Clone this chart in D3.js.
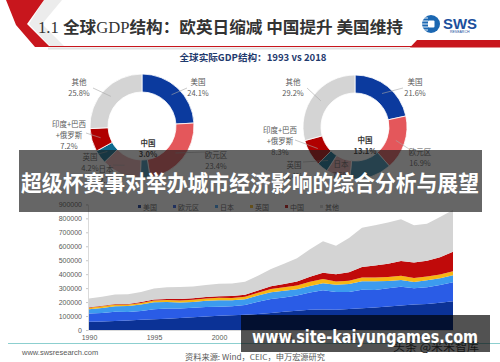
<!DOCTYPE html>
<html>
<head>
<meta charset="utf-8">
<script src="https://cdnjs.cloudflare.com/ajax/libs/d3/7.8.5/d3.min.js"></script>
<style>
  html, body { margin: 0; padding: 0; background: #fff; }
  svg { display: block; }
</style>
</head>
<body>
<div id="chart"></div>
<script>
// ---- data (GDP in 亿美元, shares in %) ----
const years = [1990, 1991, 1992, 1993, 1994, 1995, 1996, 1997, 1998, 1999, 2000, 2001, 2002, 2003, 2004,
  2005, 2006, 2007, 2008, 2009, 2010, 2011, 2012, 2013, 2014, 2015, 2016, 2017, 2018];
const areaKeys = ['美国', '欧元区', '日本', '英国', '中国', '其他'];
const gdpUS = [59600, 61600, 65200, 68600, 72900, 76400, 80700, 85800, 90600, 96300, 102500, 105800, 109400, 114600,
  122100, 130400, 138100, 144500, 147100, 144500, 149900, 155400, 162000, 167800, 175200, 182200, 187100, 195200, 205800];
const gdpEuro = [58500, 60500, 66000, 61000, 64000, 72000, 73000, 67500, 69000, 68000, 63500, 64500, 70000, 87500,
  100000, 103000, 109000, 125000, 138000, 127000, 122000, 133000, 125000, 132000, 135000, 117000, 120000, 127000, 137000];
const gdpJapan = [31300, 35800, 39100, 42500, 46000, 50000, 46300, 43100, 40300, 44600, 47900, 43000, 41200, 44500,
  48200, 47600, 45300, 45200, 50400, 52300, 57000, 61600, 62000, 51600, 48500, 43900, 49200, 48700, 49700];
const gdpUK = [10900, 11400, 11800, 10600, 11400, 13400, 14100, 15600, 16500, 16800, 16600, 16400, 17800, 20500,
  24200, 25400, 27100, 30900, 29200, 24100, 24800, 26600, 27000, 27800, 30600, 29300, 26900, 26700, 28600];
const gdpChina = [3600, 3800, 4300, 4400, 5600, 7300, 8600, 9600, 10300, 10900, 12100, 13400, 14700, 16600,
  19600, 22900, 27500, 35500, 45900, 51000, 60900, 75500, 85300, 95700, 104800, 110600, 112300, 123100, 138900];
const gdpOther = [62100, 65900, 67600, 68900, 72000, 78000, 84300, 87400, 84300, 85400, 89400, 89900, 92900, 105300,
  123900, 144700, 167000, 197900, 225400, 204100, 245400, 280900, 288700, 296100, 298900, 267000, 266500, 288300, 299000];
const yTicks = [0, 100000, 200000, 300000, 400000, 500000, 600000, 700000, 800000, 900000];
const xTicks = [1990, 1995, 2000, 2005, 2010, 2015];

const donutNames = ['美国', '欧元区', '中国', '日本', '英国', '印度+巴西+俄罗斯', '其他'];
const share1993 = [24.1, 23.4, 3.0, 12.3, 4.2, 7.2, 25.8];
const share2018 = [21.6, 16.9, 13.1, 7.5, 3.4, 8.3, 29.2];

/**
 * Slide with two donuts (1993 vs 2018) and a stacked GDP area chart.
 */
class GdpSlide {

  constructor(selector) {
    this.element = d3.select('#' + selector);
    this.initialize();
    this.drawChart();
  }

  initialize() {
    this.width = 500;
    this.height = 362;
    this.font = '"Noto Sans CJK SC", "Noto Sans", sans-serif';
    this.labelColor = '#595959';
    this.red = '#c8161d';
    this.donutColors = ['#0b3a9e', '#e4575b', '#3a8db0', '#e6aaad', '#0b6a8e', '#b00000', '#d4d4d4'];
    this.areaColors = ['#0b3296', '#2a5ce6', '#3c9bef', '#f7b614', '#c00a0a', '#d4d4d4'];
    this.plot = {left: 89, right: 453, top: 204.4, bottom: 330};

    // where each donut label sits; lx/ly is the label end of its leader line
    this.layout1993 = [
      {x: 198, y: 82, lx: 187, ly: 88},
      {x: 216, y: 155, lx: 205, ly: 152},
      {x: 148, y: 143, bold: true},
      {x: 106, y: 169, lx: 113, ly: 165},
      {x: 90, y: 157, lx: 98, ly: 154},
      {x: 69, y: 124, lx: 86, ly: 133},
      {x: 79, y: 82, lx: 93, ly: 88}
    ];
    this.layout2018 = [
      {x: 415, y: 82, lx: 403, ly: 88},
      {x: 420, y: 152, lx: 409, ly: 149},
      {x: 365, y: 140, bold: true},
      {x: 341, y: 164},
      {x: 294, y: 165, lx: 303, ly: 162},
      {x: 280, y: 130, lx: 295, ly: 140},
      {x: 293, y: 82, lx: 307, ly: 88}
    ];
  }

  drawChart() {
    this.createSVG();
    this.renderHeader();
    this.renderDonut(share1993, 142, 126, this.layout1993);
    this.renderDonut(share2018, 355, 127, this.layout2018);
    this.renderArea();
    this.renderFooter();
    this.renderOverlays();
  }

  createSVG() {
    this.element.selectAll('svg').remove();
    this.svg = this.element
      .append('svg')
      .attr('width', this.width)
      .attr('height', this.height)
      .attr('viewBox', `0 0 ${this.width} ${this.height}`)
      .style('font-family', this.font);
  }

  /**
   * Red chevron, title, logo and the header rule.
   */
  renderHeader() {
    let svg = this.svg;

    svg.append('polygon')
      .attr('points', '44,0 62,0 42,24 64,46 50,46 29,24')
      .attr('fill', '#ececec');
    svg.append('polygon')
      .attr('points', '6,0 44,0 27,24 50,47 35,47 16,25')
      .attr('fill', this.red);

    svg.append('line')
      .attr('x1', 48).attr('x2', 500).attr('y1', 46.5).attr('y2', 46.5)
      .attr('stroke', this.red).attr('stroke-width', 1.2);
    svg.append('line')
      .attr('x1', 48).attr('x2', 410).attr('y1', 48.5).attr('y2', 48.5)
      .attr('stroke', '#e2e2e2').attr('stroke-width', 2);
    svg.append('polygon')
      .attr('points', '417,40 500,40 500,47.5 410,47.5')
      .attr('fill', this.red);

    let title = svg.append('text')
      .attr('x', 38).attr('y', 33)
      .attr('font-size', 16)
      .attr('fill', '#333')
      .attr('textLength', 365)
      .attr('lengthAdjust', 'spacingAndGlyphs');
    let serif = '"Liberation Serif", "DejaVu Serif", serif';
    title.append('tspan').attr('font-family', serif).text('1.1 ');
    title.append('tspan').attr('font-weight', 700).text('全球');
    title.append('tspan').attr('font-family', serif).text('GDP');
    title.append('tspan').attr('font-weight', 700).text('结构：欧英日缩减 中国提升 美国维持');

    // SWS logo
    let logo = svg.append('g').attr('transform', 'translate(431,24)');
    logo.append('circle').attr('r', 9).attr('fill', '#1b67b2');
    [-6, -3, 0, 3, 6].forEach(function (dy) {
      logo.append('line')
        .attr('x1', -9).attr('x2', -3).attr('y1', dy).attr('y2', dy)
        .attr('stroke', '#fff').attr('stroke-width', 0.9);
    });
    logo.append('rect')
      .attr('x', -3).attr('y', -3.5).attr('width', 6.5).attr('height', 7)
      .attr('rx', 1).attr('fill', '#fff');

    svg.append('text')
      .attr('x', 443).attr('y', 29)
      .attr('font-family', '"Liberation Sans", Arial, sans-serif')
      .attr('font-weight', 700).attr('font-size', 15)
      .attr('fill', '#1b4f9c')
      .attr('textLength', 34).attr('lengthAdjust', 'spacingAndGlyphs')
      .text('SWS');
    svg.append('text')
      .attr('x', 450).attr('y', 33)
      .attr('font-family', '"Liberation Sans", Arial, sans-serif')
      .attr('font-size', 3.5).attr('fill', '#1b4f9c')
      .text('RESEARCH');

    svg.append('text')
      .attr('x', 253).attr('y', 61)
      .attr('text-anchor', 'middle')
      .attr('font-size', 9.5).attr('font-weight', 700)
      .attr('fill', '#1f3a6e')
      .attr('textLength', 147).attr('lengthAdjust', 'spacingAndGlyphs')
      .text('全球实际GDP结构：1993 vs 2018');
  }

  /**
   * One donut with its labels and leader lines.
   */
  renderDonut(shares, cx, cy, layout) {
    let pie = d3.pie().sort(null).value((d) => d);
    let arc = d3.arc().innerRadius(34).outerRadius(52);
    let mid = d3.arc().innerRadius(43).outerRadius(43);
    let arcs = pie(shares);

    let g = this.svg.append('g').attr('transform', `translate(${cx},${cy})`);
    g.selectAll('path')
      .data(arcs)
      .enter()
      .append('path')
      .attr('d', arc)
      .attr('fill', (d, i) => this.donutColors[i])
      .attr('stroke', '#fff')
      .attr('stroke-width', 0.8);

    arcs.forEach(function (d, i) {
      let spot = layout[i];
      if (spot.lx !== undefined) {
        let p = mid.centroid(d);
        g.append('line')
          .attr('x1', p[0]).attr('y1', p[1])
          .attr('x2', spot.lx - cx).attr('y2', spot.ly - cy)
          .attr('stroke', '#a6a6a6').attr('stroke-width', 0.6);
      }
      let lines = donutNames[i] === '印度+巴西+俄罗斯' ? ['印度+巴西', '+俄罗斯'] : [donutNames[i]];
      lines.push(d.data.toFixed(1) + '%');
      lines.forEach((line, k) => {
        this.svg.append('text')
          .attr('x', spot.x)
          .attr('y', spot.y + k * 11 + 2.6)
          .attr('text-anchor', 'middle')
          .attr('font-size', 7.5)
          .attr('font-weight', spot.bold ? 700 : 400)
          .attr('fill', spot.bold ? '#333' : this.labelColor)
          .text(line);
      });
    }.bind(this));
  }

  /**
   * Stacked area chart of GDP by economy.
   */
  renderArea() {
    let plot = this.plot;
    let series = [gdpUS, gdpEuro, gdpJapan, gdpUK, gdpChina, gdpOther];
    let rows = years.map(function (year, i) {
      let row = {year: year};
      areaKeys.forEach((key, k) => row[key] = series[k][i]);
      return row;
    });

    this.x = d3.scaleLinear().domain([1990, 2018]).range([plot.left, plot.right]);
    this.y = d3.scaleLinear().domain([0, 900000]).range([plot.bottom, plot.top]);

    let stacked = d3.stack().keys(areaKeys)(rows);
    let area = d3.area()
      .x((d) => this.x(d.data.year))
      .y0((d) => this.y(d[0]))
      .y1((d) => this.y(d[1]));

    this.svg.append('g')
      .selectAll('path')
      .data(stacked)
      .enter()
      .append('path')
      .attr('d', area)
      .attr('fill', (d, i) => this.areaColors[i]);

    let yAxis = this.svg.append('g')
      .attr('transform', `translate(${plot.left - 1},0)`)
      .call(d3.axisLeft(this.y).tickValues(yTicks).tickSize(2).tickPadding(4).tickFormat(d3.format('d')));
    let xAxis = this.svg.append('g')
      .attr('transform', `translate(0,${plot.bottom})`)
      .call(d3.axisBottom(this.x).tickValues(xTicks).tickSize(0).tickPadding(5).tickFormat(d3.format('d')));

    [yAxis, xAxis].forEach((axis) => {
      axis.select('.domain').attr('stroke', '#d0d0d0').attr('stroke-width', 0.8);
      axis.selectAll('.tick line').attr('stroke', '#c8c8c8');
      axis.selectAll('text')
        .attr('font-family', '"Liberation Sans", Arial, sans-serif')
        .attr('font-size', 7)
        .attr('fill', this.labelColor);
    });

    // legend
    let lx = 138;
    areaKeys.forEach((key, i) => {
      this.svg.append('rect')
        .attr('x', lx).attr('y', 205).attr('width', 3).attr('height', 3)
        .attr('fill', this.areaColors[i]);
      this.svg.append('text')
        .attr('x', lx + 5).attr('y', 209.5)
        .attr('font-size', 7).attr('fill', this.labelColor)
        .text(key);
      lx += 21 + key.length * 7;
    });
  }

  renderFooter() {
    this.svg.append('line')
      .attr('x1', 8).attr('x2', 500).attr('y1', 343.5).attr('y2', 343.5)
      .attr('stroke', '#8ccfcf').attr('stroke-width', 1.2);
    this.svg.append('text')
      .attr('x', 22).attr('y', 355)
      .attr('font-family', '"Liberation Sans", Arial, sans-serif')
      .attr('font-size', 7.5).attr('fill', this.labelColor)
      .text('www.swsresearch.com');
    this.svg.append('text')
      .attr('x', 185).attr('y', 360)
      .attr('font-size', 7.5).attr('fill', this.labelColor)
      .attr('textLength', 140).attr('lengthAdjust', 'spacingAndGlyphs')
      .text('资料来源: Wind，CEIC，申万宏源研究');
  }

  /**
   * Banner across the middle and the watermark box bottom right.
   */
  renderOverlays() {
    let svg = this.svg;
    svg.append('rect')
      .attr('x', 19).attr('y', 150).attr('width', 463).attr('height', 62)
      .attr('fill', 'rgba(30,30,30,0.68)');
    svg.append('text')
      .attr('x', 250).attr('y', 191)
      .attr('text-anchor', 'middle')
      .attr('font-size', 22).attr('font-weight', 700)
      .attr('fill', '#fff')
      .attr('textLength', 458).attr('lengthAdjust', 'spacingAndGlyphs')
      .text('超级杯赛事对举办城市经济影响的综合分析与展望');

    svg.append('rect')
      .attr('x', 241).attr('y', 315).attr('width', 249).attr('height', 37)
      .attr('fill', 'rgba(0,0,0,0.68)');
    svg.append('text')
      .attr('x', 393).attr('y', 351)
      .attr('font-size', 11)
      .attr('fill', '#151515')
      .attr('textLength', 86).attr('lengthAdjust', 'spacingAndGlyphs')
      .text('头条 @米米智库');
    svg.append('text')
      .attr('x', 252).attr('y', 343)
      .attr('font-family', '"DejaVu Sans", sans-serif')
      .attr('font-size', 17).attr('font-weight', 700)
      .attr('fill', '#fff')
      .attr('textLength', 226).attr('lengthAdjust', 'spacingAndGlyphs')
      .text('www.site-kaiyungames.com');
  }
}

new GdpSlide('chart');
</script>
</body>
</html>
